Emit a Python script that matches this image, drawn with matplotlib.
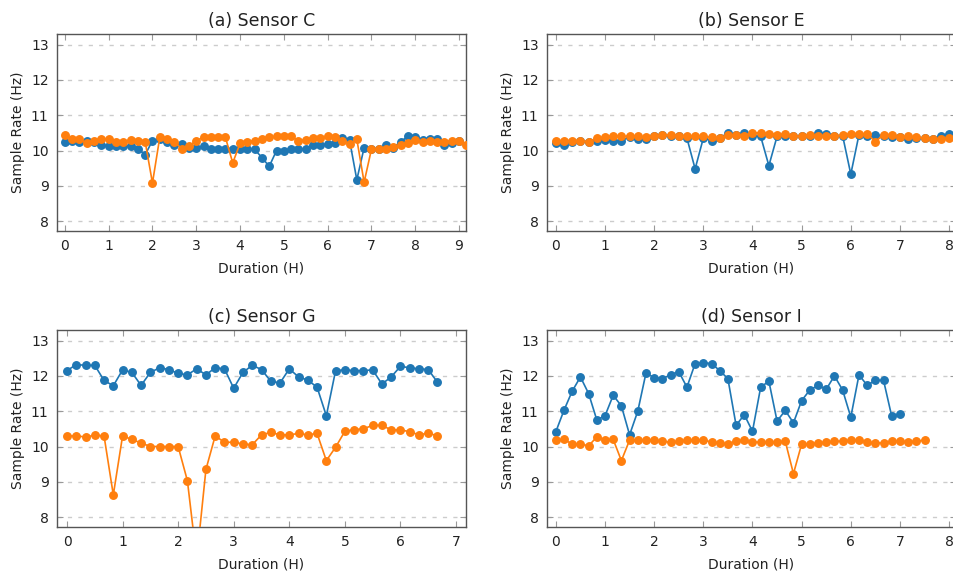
import numpy as np
import matplotlib
matplotlib.use("Agg")
import matplotlib.pyplot as plt

# sample rate readings, one every 10 minutes (1/6 h)
STEP_H = 1 / 6

titles = ["(a) Sensor C", "(b) Sensor E", "(c) Sensor G", "(d) Sensor I"]

c_blue = [10.25, 10.28, 10.25, 10.27, 10.25, 10.17, 10.12, 10.13, 10.13, 10.13, 10.05, 9.88,
          10.28, 10.32, 10.25, 10.17, 10.18, 10.08, 10.07, 10.12, 10.05, 10.03, 10.05, 10.05,
          10.05, 10.03, 10.03, 9.80, 9.55, 10.00, 10.00, 10.03, 10.03, 10.05, 10.17, 10.17,
          10.18, 10.20, 10.35, 10.30, 9.17, 10.08, 10.05, 10.03, 10.15, 10.08, 10.25, 10.40,
          10.38, 10.30, 10.32, 10.32, 10.15, 10.20, 10.28]
c_orange = [10.43, 10.32, 10.33, 10.20, 10.27, 10.32, 10.33, 10.25, 10.25, 10.30, 10.28, 10.25,
            9.08, 10.37, 10.32, 10.25, 10.05, 10.12, 10.28, 10.37, 10.37, 10.37, 10.37, 9.65,
            10.20, 10.25, 10.28, 10.33, 10.37, 10.40, 10.40, 10.40, 10.28, 10.30, 10.35, 10.35,
            10.40, 10.37, 10.28, 10.18, 10.32, 9.10, 10.03, 10.05, 10.03, 10.10, 10.15, 10.20,
            10.30, 10.25, 10.27, 10.25, 10.25, 10.28, 10.28, 10.17]

e_blue = [10.22, 10.17, 10.25, 10.27, 10.25, 10.28, 10.30, 10.28, 10.28, 10.38, 10.32, 10.32,
          10.42, 10.45, 10.40, 10.42, 10.35, 9.48, 10.35, 10.28, 10.35, 10.50, 10.45, 10.50,
          10.42, 10.40, 9.57, 10.40, 10.40, 10.42, 10.40, 10.40, 10.50, 10.48, 10.42, 10.42,
          9.33, 10.45, 10.42, 10.43, 10.42, 10.38, 10.38, 10.33, 10.35, 10.35, 10.32, 10.40,
          10.48]
e_orange = [10.28, 10.28, 10.28, 10.28, 10.25, 10.35, 10.38, 10.42, 10.40, 10.40, 10.40, 10.37,
            10.40, 10.45, 10.43, 10.40, 10.40, 10.40, 10.40, 10.37, 10.35, 10.43, 10.45, 10.42,
            10.50, 10.50, 10.48, 10.45, 10.47, 10.42, 10.40, 10.45, 10.42, 10.42, 10.42, 10.43,
            10.48, 10.48, 10.47, 10.25, 10.45, 10.45, 10.37, 10.40, 10.38, 10.35, 10.32, 10.33,
            10.35, 10.25]

g_blue = [12.15, 12.32, 12.30, 12.30, 11.87, 11.72, 12.17, 12.10, 11.73, 12.10, 12.23, 12.18,
          12.07, 12.03, 12.20, 12.03, 12.23, 12.20, 11.65, 12.10, 12.30, 12.18, 11.85, 11.80,
          12.20, 11.97, 11.88, 11.68, 10.87, 12.15, 12.17, 12.15, 12.15, 12.17, 11.77, 11.97,
          12.27, 12.23, 12.20, 12.18, 11.82]
g_orange = [10.30, 10.30, 10.27, 10.32, 10.30, 8.63, 10.30, 10.20, 10.10, 10.00, 10.00, 10.00,
            10.00, 9.03, 6.80, 9.35, 10.30, 10.12, 10.12, 10.07, 10.05, 10.33, 10.40, 10.33,
            10.33, 10.37, 10.33, 10.37, 9.60, 9.98, 10.43, 10.48, 10.50, 10.60, 10.60, 10.47,
            10.47, 10.42, 10.33, 10.38, 10.30]

i_blue = [10.42, 11.03, 11.57, 11.97, 11.50, 10.75, 10.87, 11.45, 11.15, 10.33, 11.00, 12.08,
          11.95, 11.92, 12.03, 12.12, 11.68, 12.35, 12.37, 12.35, 12.15, 11.92, 10.60, 10.90,
          10.43, 11.68, 11.85, 10.72, 11.02, 10.67, 11.30, 11.60, 11.73, 11.62, 12.00, 11.60,
          10.83, 12.03, 11.73, 11.88, 11.87, 10.85, 10.93]
i_orange = [10.18, 10.20, 10.07, 10.07, 10.02, 10.27, 10.18, 10.20, 9.60, 10.18, 10.18, 10.18,
            10.18, 10.15, 10.12, 10.15, 10.18, 10.18, 10.18, 10.13, 10.10, 10.07, 10.15, 10.18,
            10.13, 10.12, 10.12, 10.12, 10.15, 9.23, 10.07, 10.07, 10.10, 10.12, 10.15, 10.15,
            10.18, 10.18, 10.12, 10.10, 10.10, 10.15, 10.15, 10.13, 10.15, 10.18]

blue_series = [c_blue, e_blue, g_blue, i_blue]
orange_series = [c_orange, e_orange, g_orange, i_orange]
x_limits = [(-0.18, 9.16), (-0.18, 8.14), (-0.18, 7.18), (-0.18, 8.14)]
x_ticks = [range(0, 10), range(0, 9), range(0, 8), range(0, 9)]

W, H = 954, 576
fig = plt.figure(figsize=(W / 100, H / 100), dpi=100)

# axes boxes in pixels: left, top, width, height
boxes = [(57, 34, 409, 197), (547, 34, 409, 197), (57, 330, 409, 197), (547, 330, 409, 197)]

for k in range(4):
    left, top, w, h = boxes[k]
    ax = fig.add_axes([left / W, 1 - (top + h) / H, w / W, h / H])

    b = np.array(blue_series[k])
    o = np.array(orange_series[k])
    ax.plot(np.arange(len(b)) * STEP_H, b, "-o", color="#1f77b4", lw=1.2, ms=5.4, zorder=3)
    ax.plot(np.arange(len(o)) * STEP_H, o, "-o", color="#ff7f0e", lw=1.2, ms=5.4, zorder=4)

    ax.set_xlim(*x_limits[k])
    ax.set_ylim(7.72, 13.3)
    ax.set_xticks(list(x_ticks[k]))
    ax.set_yticks(range(8, 14))
    ax.grid(axis="y", color="#cccccc", linestyle=(0, (3, 4.5)), lw=1)
    ax.set_axisbelow(True)

    ax.tick_params(direction="in", top=True, right=True, length=4, width=0.8,
                   color="#999999", labelsize=10, labelcolor="#222222", pad=6)
    for s in ax.spines.values():
        s.set_color("#555555")
        s.set_linewidth(1.0)

    ax.set_title(titles[k], fontsize=12.5, color="#222222", pad=6)
    ax.set_xlabel("Duration (H)", fontsize=10, color="#222222", labelpad=6)
    ax.set_ylabel("Sample Rate (Hz)", fontsize=10, color="#222222", labelpad=4)

fig.savefig("out.png", dpi=100)
